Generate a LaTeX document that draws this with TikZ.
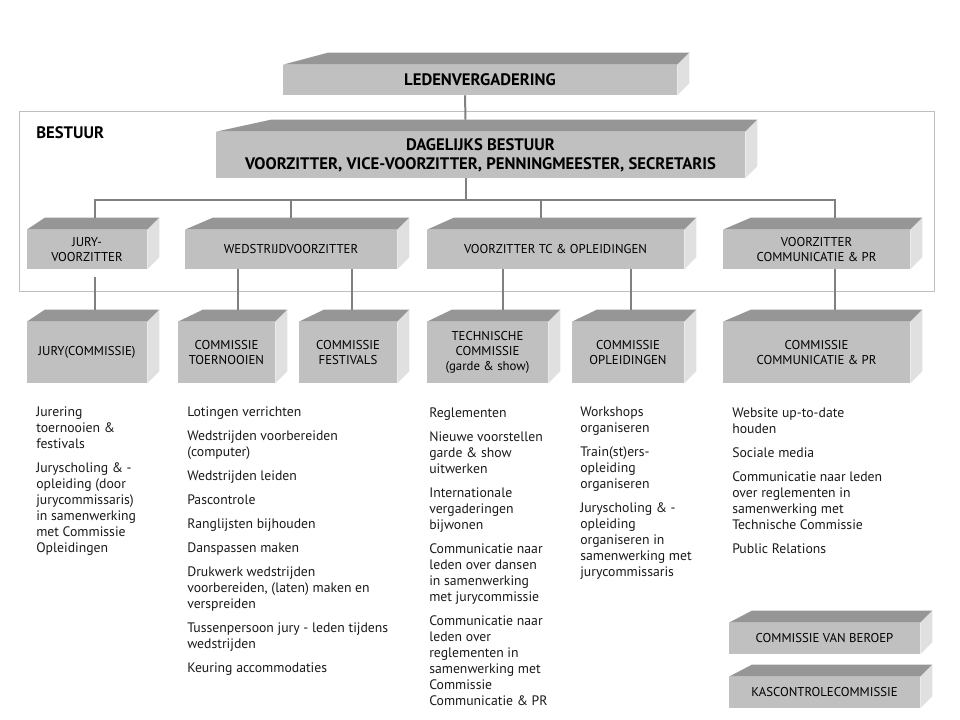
\documentclass[tikz,border=0pt]{standalone}
\usepackage{fontspec}
\setmainfont{PT Sans}

\definecolor{voorvlak}{RGB}{192,192,192}
\definecolor{bovenvlak}{RGB}{150,150,150}
\definecolor{zijvlak}{RGB}{224,224,224}
\definecolor{lijngrijs}{RGB}{128,128,128}
\definecolor{kadergrijs}{RGB}{191,191,191}

\begin{document}
\begin{tikzpicture}[x=0.75pt, y=-0.75pt,
    blok/.style={fill=voorvlak, inner sep=0pt, align=center, text=black,
      font=\fontsize{9.6}{11.25}\selectfont},
    kop/.style={blok, font=\bfseries\fontsize{12.5}{14.25}\selectfont},
    lijn/.style={draw=lijngrijs, line width=1.5pt},
    taken/.style={anchor=north west, inner sep=0pt, align=left, text=black!90,
      font=\fontsize{10.3}{12}\selectfont}]
    \useasboundingbox (0,0) rectangle (960,720);

    % bestuur frame
    \draw[kadergrijs, line width=0.75pt] (19,112) rectangle (934,292);
    \node[anchor=west, inner sep=0pt, font=\bfseries\fontsize{12.5}{14}\selectfont] (bestuur) at (36,133) {BESTUUR};

    \node[kop, minimum width=295.5pt, minimum height=22.5pt] (leden) at (480,80) {LEDENVERGADERING};
    \node[kop, minimum width=396.75pt, minimum height=34.5pt] (dag) at (480.5,155)
        {DAGELIJKS BESTUUR\\VOORZITTER, VICE-VOORZITTER, PENNINGMEESTER, SECRETARIS};

    \node[blok, minimum width=90pt, minimum height=29.25pt] (jv) at (87,249.5) {JURY-\\VOORZITTER};
    \node[blok, minimum width=159pt, minimum height=29.25pt] (wv) at (291,249.5) {WEDSTRIJDVOORZITTER};
    \node[blok, minimum width=192.75pt, minimum height=29.25pt] (tv) at (555.5,249.5) {VOORZITTER TC \& OPLEIDINGEN};
    \node[blok, minimum width=140.25pt, minimum height=29.25pt] (cv) at (816.5,249.5) {VOORZITTER\\COMMUNICATIE \& PR};

    \node[blok, minimum width=90pt, minimum height=45.75pt] (jc) at (87,352.5) {JURY(COMMISSIE)};
    \node[blok, minimum width=72.75pt, minimum height=45.75pt] (ct) at (226.5,352.5) {COMMISSIE\\TOERNOOIEN};
    \node[blok, minimum width=73.5pt, minimum height=45.75pt] (cf) at (348,352.5) {COMMISSIE\\FESTIVALS};
    \node[blok, minimum width=90.75pt, minimum height=45.75pt] (tc) at (487.5,352.5) {TECHNISCHE\\COMMISSIE\\(garde \& show)};
    \node[blok, minimum width=84pt, minimum height=45.75pt] (co) at (628,352.5) {COMMISSIE\\OPLEIDINGEN};
    \node[blok, minimum width=140.25pt, minimum height=45.75pt] (cc) at (816.5,352.5) {COMMISSIE\\COMMUNICATIE \& PR};

    \node[blok, minimum width=143.25pt, minimum height=23.25pt] (cb) at (824.5,638.5) {COMMISSIE VAN BEROEP};
    \node[blok, minimum width=143.25pt, minimum height=23.25pt] (kc) at (824.5,692.5) {KASCONTROLECOMMISSIE};

    % top and side faces of the blocks
    \foreach \blk/\off in {leden/45, dag/55, jv/18, wv/28, tv/27, cv/28, jc/18, ct/25,
                          cf/25, tc/25, co/25, cc/28, cb/23, kc/23} {
        \fill[bovenvlak] (\blk.north west) -- ++(\off,-12) -- ([shift={(12,-12)}]\blk.north east)
            -- (\blk.north east) -- cycle;
        \fill[zijvlak] (\blk.north east) -- ++(12,-12) -- ([shift={(12,-12)}]\blk.south east)
            -- (\blk.south east) -- cycle;
    }

    % connectors
    \draw[lijn] ([shift={(-15,0)}]leden.south) -- ([shift={(-15,-12)}]dag.north);
    \draw[lijn] ([shift={(-15,0)}]dag.south) -- ++(0,23);
    \draw[lijn] ([shift={(8,-12)}]jv.north) -- ++(0,-18) -| ([shift={(18.5,-12)}]cv.north);
    \draw[lijn] ([shift={(0,-12)}]wv.north) -- ++(0,-18);
    \draw[lijn] ([shift={(-14.5,-12)}]tv.north) -- ++(0,-18);

    \draw[lijn] ([shift={(8,8)}]jv.south) -- ([shift={(8,-12)}]jc.north);
    \draw[lijn] ([shift={(-53,0)}]wv.south) -- ([shift={(11.5,-12)}]ct.north);
    \draw[lijn] ([shift={(61,0)}]wv.south) -- ([shift={(4,-12)}]cf.north);
    \draw[lijn] ([shift={(-52.5,0)}]tv.south) -- ([shift={(15.5,-12)}]tc.north);
    \draw[lijn] ([shift={(75.5,0)}]tv.south) -- ([shift={(3,-12)}]co.north);
    \draw[lijn] ([shift={(18.5,0)}]cv.south) -- ([shift={(18.5,-12)}]cc.north);

    % task lists
    \node[taken] (tjc) at (36,407) {Jurering\\toernooien \&\\festivals\\[6pt]
        Juryscholing \& -\\opleiding (door\\jurycommissaris)\\in samenwerking\\met Commissie\\Opleidingen};
    \node[taken] (twv) at (187,407) {Lotingen verrichten\\[6pt]
        Wedstrijden voorbereiden\\(computer)\\[6pt]
        Wedstrijden leiden\\[6pt]
        Pascontrole\\[6pt]
        Ranglijsten bijhouden\\[6pt]
        Danspassen maken\\[6pt]
        Drukwerk wedstrijden\\voorbereiden, (laten) maken en\\verspreiden\\[6pt]
        Tussenpersoon jury - leden tijdens\\wedstrijden\\[6pt]
        Keuring accommodaties};
    \node[taken] (ttc) at (429,408) {Reglementen\\[6pt]
        Nieuwe voorstellen\\garde \& show\\uitwerken\\[6pt]
        Internationale\\vergaderingen\\bijwonen\\[6pt]
        Communicatie naar\\leden over dansen\\in samenwerking\\met jurycommissie\\[6pt]
        Communicatie naar\\leden over\\reglementen in\\samenwerking met\\Commissie\\Communicatie \& PR};
    \node[taken] (tco) at (580,407) {Workshops\\organiseren\\[6pt]
        Train(st)ers-\\opleiding\\organiseren\\[6pt]
        Juryscholing \& -\\opleiding\\organiseren in\\samenwerking met\\jurycommissaris};
    \node[taken] (tcc) at (732,408) {Website up-to-date\\houden\\[6pt]
        Sociale media\\[6pt]
        Communicatie naar leden\\over reglementen in\\samenwerking met\\Technische Commissie\\[6pt]
        Public Relations};
\end{tikzpicture}
\end{document}
